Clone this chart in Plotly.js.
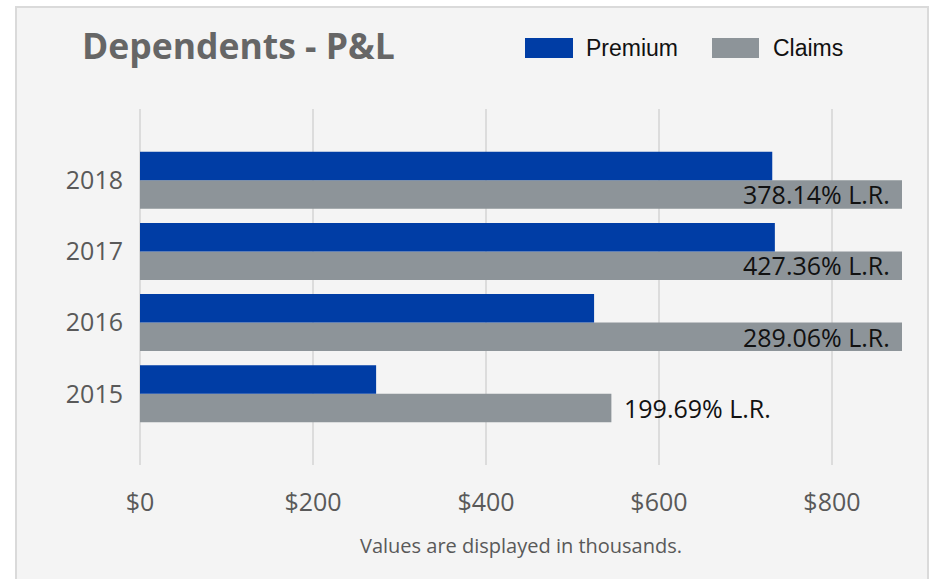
<!DOCTYPE html>
<html>
<head>
<meta charset="utf-8">
<script src="https://cdn.plot.ly/plotly-3.0.1.min.js"></script>
<style>
	body { margin: 0; background: #fff; }
	#frame { position: absolute; left: 15px; top: 6px; width: 910px; height: 600px;
		border: 2px solid #dadada; background: #f4f4f4; }
	#chart { position: absolute; left: 0; top: 0; width: 931px; height: 579px; }
</style>
</head>
<body>
<div id="frame"></div>
<div id="chart"></div>
<script>
"use strict"

let years = ['2015', '2016', '2017', '2018'];
let premium = [273, 525, 734, 731];
let claims = [545, 1518, 3137, 2763];
let lossRatioLabels = ['199.69% L.R.', '289.06% L.R.', '427.36% L.R.', '378.14% L.R.'];
let xTickValues = [0, 200, 400, 600, 800];
let xTickLabels = ['$0', '$200', '$400', '$600', '$800'];

let W = 931, H = 579;
let margin = {l: 140, r: 29, t: 109, b: 114, pad: 0};
let xMax = 881;

// pixel -> paper coords for the hand drawn legend
function px(x){ return (x - margin.l) / (W - margin.l - margin.r); }
function py(y){ return (H - margin.b - y) / (H - margin.t - margin.b); }

let claimsTrace = {
	type: 'bar', orientation: 'h', name: 'Claims',
	y: years, x: claims,
	marker: {color: '#8d9499'},
	hoverinfo: 'x+y'
};
let premiumTrace = {
	type: 'bar', orientation: 'h', name: 'Premium',
	y: years, x: premium,
	marker: {color: '#003da5'},
	hoverinfo: 'x+y'
};

let annotations = [];
for(let i=0;i<years.length;i++){
	let clipped = claims[i] > xMax;
	// category axis: annotation y is the category index
	annotations.push({
		xref: 'x', yref: 'y',
		x: clipped ? xMax : claims[i],
		y: i,
		yshift: -14,
		xshift: clipped ? -10 : 11,
		xanchor: clipped ? 'right' : 'left',
		yanchor: 'middle',
		text: lossRatioLabels[i],
		showarrow: false,
		font: {family: 'Open Sans', size: 25, color: '#111'}
	});
}

// legend
let legendItems = [
	{name: 'Premium', color: '#003da5', x0: 525, x1: 573, tx: 584},
	{name: 'Claims', color: '#8d9499', x0: 712, x1: 759, tx: 771}
];
let shapes = [];
legendItems.forEach(item => {
	shapes.push({
		type: 'rect', xref: 'paper', yref: 'paper',
		x0: px(item.x0), x1: px(item.x1), y0: py(58), y1: py(38),
		fillcolor: item.color, line: {width: 0}
	});
	annotations.push({
		xref: 'paper', yref: 'paper',
		x: px(item.tx), y: py(48),
		xanchor: 'left', yanchor: 'middle',
		text: item.name, showarrow: false,
		font: {family: 'Liberation Sans', size: 23, color: '#111'}
	});
});

let layout = {
	width: W, height: H,
	margin: margin,
	paper_bgcolor: 'rgba(0,0,0,0)',
	plot_bgcolor: 'rgba(0,0,0,0)',
	barmode: 'group',
	bargap: 0.2,
	bargroupgap: 0,
	showlegend: false,
	title: {
		text: 'Dependents - P&L',
		x: 82 / W, xref: 'container', xanchor: 'left',
		y: 1 - 47 / H, yref: 'container', yanchor: 'middle',
		font: {family: 'Open Sans', size: 35.5, color: '#666', weight: 'bold'}
	},
	xaxis: {
		range: [0, xMax],
		tickvals: xTickValues,
		ticktext: xTickLabels,
		showgrid: true, gridcolor: '#dcdcdc', gridwidth: 2,
		zeroline: true, zerolinecolor: '#dcdcdc', zerolinewidth: 2,
		showline: false,
		ticks: '', ticklabelstandoff: 20,
		tickfont: {family: 'Open Sans', size: 25, color: '#595959'},
		title: {
			text: 'Values are displayed in thousands.',
			standoff: 21,
			font: {family: 'Open Sans', size: 20, color: '#595959'}
		}
	},
	yaxis: {
		type: 'category',
		categoryorder: 'array', categoryarray: years,
		range: [-1, 4],
		showgrid: false, zeroline: false, showline: false,
		ticks: '', ticklabelstandoff: 16,
		tickfont: {family: 'Open Sans', size: 25, color: '#595959'}
	},
	shapes: shapes,
	annotations: annotations
};

Plotly.newPlot('chart', [claimsTrace, premiumTrace], layout, {displayModeBar: false, staticPlot: true});
</script>
</body>
</html>
